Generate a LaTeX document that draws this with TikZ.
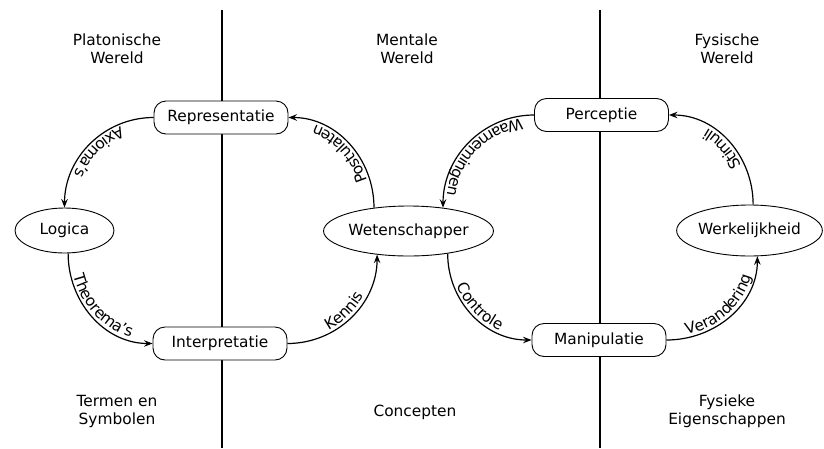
\documentclass[tikz,border=0pt]{standalone}
\usepackage{fontspec}
\setmainfont{DejaVu Sans}
\usetikzlibrary{arrows.meta,decorations.text,shapes.geometric}
\begin{document}
\fontsize{15.4}{18}\selectfont
\begin{tikzpicture}[x=1pt,y=1pt,
  box/.style={draw,line width=0.9pt,fill=white,rounded corners=12pt,minimum width=134pt,minimum height=33pt,inner sep=0pt},
  ell/.style={draw,line width=0.9pt,fill=white,ellipse,inner sep=0pt},
  conn/.style={line width=1.2pt,-{Stealth[length=8.5pt,width=6.5pt,inset=3pt]}},
  lbl/.style={postaction={decorate,decoration={text along path,text={#1},text align=center,raise=3pt}}},
  divider/.style={line width=1.2pt},
  head/.style={align=center,inner sep=0pt}]
\useasboundingbox (0,0) rectangle (824,-448);
% dividers
\coordinate (d1t) at (222,-10);
\coordinate (d1b) at (222,-448);
\coordinate (d2t) at (600,-10);
\coordinate (d2b) at (600,-448);
\draw[divider] (d1t) -- (d1b);
\draw[divider] (d2t) -- (d2b);
% headers
\node[head] (h1) at (117,-49) {Platonische\\Wereld};
\node[head] (h2) at (407,-49) {Mentale\\Wereld};
\node[head] (h3) at (727,-49) {Fysische\\Wereld};
\node[head] (f1) at (117,-411) {Termen en\\Symbolen};
\node[head] (f2) at (415,-412) {Concepten};
\node[head] (f3) at (727,-411) {Fysieke\\Eigenschappen};
% nodes
\node[box] (rep) at (221,-117.5) {Representatie};
\node[box] (interp) at (220,-343.5) {Interpretatie};
\node[box] (perc) at (601.5,-115) {Perceptie};
\node[box] (manip) at (599,-340) {Manipulatie};
\node[ell,minimum width=99pt,minimum height=45pt] (logica) at (64.5,-230.5) {Logica};
\node[ell,minimum width=169pt,minimum height=50pt] (wet) at (408.5,-231) {Wetenschapper};
\node[ell,minimum width=145pt,minimum height=51pt] (werk) at (749.5,-230.5) {Werkelijkheid};
% connectors
\draw[conn,lbl={Axioma's}] (rep.west) to[out=180,in=90] (logica.north);
\draw[conn,lbl={Theorema's}] (logica.-81) to[out=-90,in=180] (interp.west);
\draw[conn,lbl={Kennis}] (interp.east) to[out=0,in=-90] (wet.217);
\draw[conn,lbl={Postulaten}] (wet.146) to[out=90,in=0] (rep.east);
\draw[conn,lbl={Waarnemingen}] (perc.west) to[out=180,in=90] (wet.34);
\draw[conn,lbl={Controle}] (wet.-30) to[out=-90,in=180] (manip.west);
\draw[conn,lbl={Verandering}] (manip.east) to[out=0,in=-90] (werk.-73);
\draw[conn,lbl={Stimuli}] (werk.82) to[out=90,in=0] (perc.east);
\end{tikzpicture}
\end{document}
